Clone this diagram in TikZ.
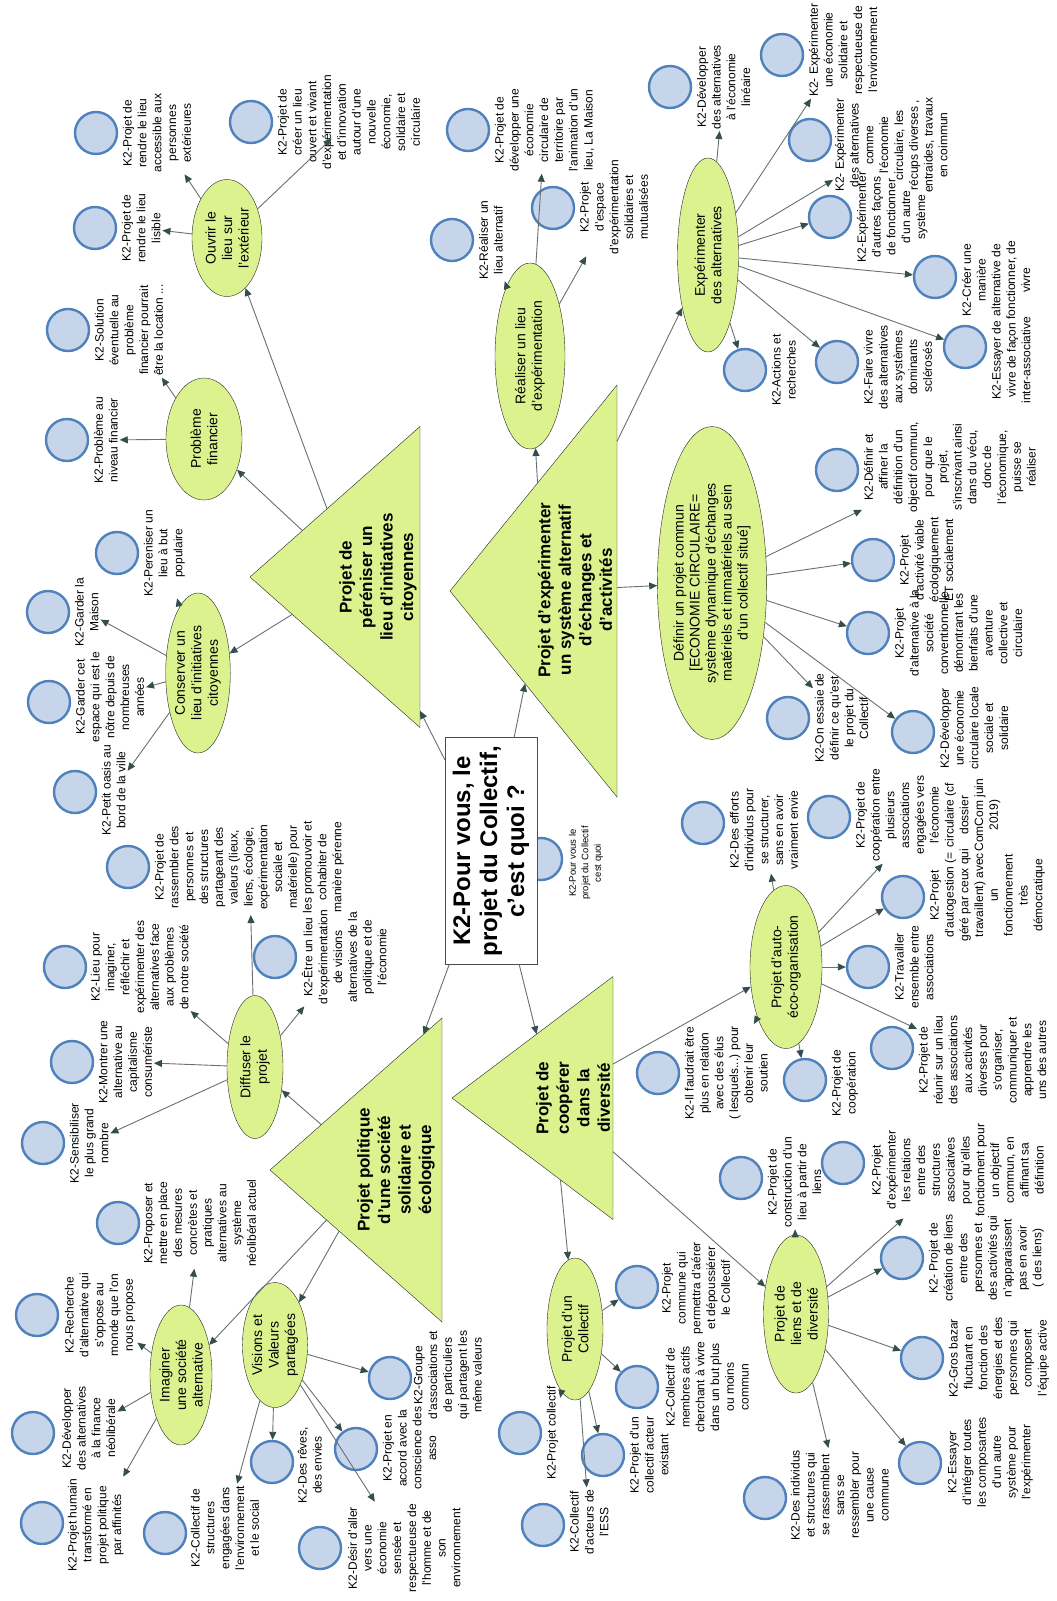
\documentclass[tikz,border=0pt]{standalone}
\usepackage{fontspec}
\setmainfont{Liberation Sans}
\usetikzlibrary{shapes.geometric,arrows.meta}
\definecolor{leaffill}{RGB}{198,213,233}
\definecolor{leafline}{RGB}{79,129,189}
\definecolor{topicfill}{RGB}{219,242,142}
\definecolor{linkcol}{RGB}{105,112,112}
\definecolor{headcol}{RGB}{52,78,76}
\begin{document}
\begin{tikzpicture}[x=1pt,y=-1pt,
  leaf/.style={circle,draw=leafline,fill=leaffill,line width=2.4pt,minimum size=42pt,inner sep=0pt},
  leaf text/.style={rotate=90,anchor=north,align=center,inner sep=0pt,outer sep=2pt,font=\fontsize{12}{14.8}\selectfont},
  topic/.style={ellipse,rotate=90,draw=black!85,fill=topicfill,inner sep=0pt,align=center,font=\fontsize{14}{16.5}\selectfont},
  theme/.style={isosceles triangle,isosceles triangle stretches,shape border rotate=180,anchor=apex,draw=black!85,fill=topicfill,inner sep=0pt,outer sep=0pt},
  theme text/.style={rotate=90,align=center,font=\bfseries\fontsize{17}{20.5}\selectfont},
  question/.style={rectangle,rotate=90,draw=black!70,fill=white,align=center,inner sep=0pt,font=\bfseries\fontsize{24}{27}\selectfont},
  every edge/.style={draw=linkcol,line width=0.9pt,-{Triangle[length=8pt,width=7pt,color=headcol]}}]

  \useasboundingbox (0,0) rectangle (1057,1601);

  \node[leaf] (pourvous) at (541,859) {};
  \node[leaf text,font=\fontsize{9.5}{12.5}\selectfont] (pourvous-t) at (567,863) {K2-Pour vous le\\projet du Collectif\\cest quoi};
  \node[question,minimum width=227pt,minimum height=92pt] (question) at (491,851) {K2-Pour vous, le\\projet du Collectif,\\c'est quoi ?};

  \node[theme,minimum width=301pt,minimum height=170pt] (lieu) at (250,577) {};
  \node[theme text] (lieu-t) at (378,577) {Projet de\\péréniser un\\lieu d'initiatives\\citoyennes};
  \node[theme,minimum width=412pt,minimum height=167pt] (systeme) at (450,591) {};
  \node[theme text] (systeme-t) at (575,590) {Projet d'expérimenter\\un système alternatif\\d'échanges et\\d'activités};
  \node[theme,minimum width=304pt,minimum height=172pt] (politique) at (270,1170) {};
  \node[theme text] (politique-t) at (396,1170) {Projet politique\\d'une société\\solidaire et\\écologique};
  \node[theme,minimum width=243pt,minimum height=161pt] (cooperer) at (452,1098) {};
  \node[theme text] (cooperer-t) at (573,1098) {Projet de\\coopérer\\dans la\\diversité};

  \node[topic,minimum width=117pt,minimum height=70pt] (ouvrir) at (227,238) {Ouvrir le\\lieu sur\\l'extérieur};
  \node[topic,minimum width=122pt,minimum height=76pt] (finance) at (204,439) {Problème\\financier};
  \node[topic,minimum width=160pt,minimum height=63pt] (conserver) at (198,673) {Conserver un\\lieu d'initiatives\\citoyennes};
  \node[topic,minimum width=186pt,minimum height=70pt] (realiser) at (530,356) {Réaliser un lieu\\d'expérimentation};
  \node[topic,minimum width=194pt,minimum height=61pt] (experimenter) at (708,255) {Expérimenter\\des alternatives};
  \node[topic,minimum width=313pt,minimum height=109pt,font=\fontsize{14}{16}\selectfont] (definir) at (712,583) {Définir un projet commun\\{[}ECONOMIE CIRCULAIRE=\\système dynamique d'échanges\\matériels et immatériels au sein\\d'un collectif situé{]}};
  \node[topic,minimum width=163pt,minimum height=72pt] (autoorg) at (786,967) {Projet d'auto-\\éco-organisation};
  \node[topic,minimum width=142pt,minimum height=56pt] (collectif) at (575,1329) {Projet d'un\\Collectif};
  \node[topic,minimum width=158pt,minimum height=65pt] (liens) at (796,1314) {Projet de\\liens et de\\diversité};
  \node[topic,minimum width=143pt,minimum height=56pt] (diffuser) at (255,1067) {Diffuser le\\projet};
  \node[topic,minimum width=140pt,minimum height=62pt] (imaginer) at (181,1375) {Imaginer\\une société\\alternative};
  \node[topic,minimum width=125pt,minimum height=60pt] (visions) at (275,1345) {Visions et\\Valeurs\\partagées};

  \node[leaf] (lisible) at (95,228) {};
  \node[leaf text] (lisible-t) at (120,228) {K2-Projet de\\rendre le lieu\\lisible};
  \node[leaf] (accessible) at (96,133) {};
  \node[leaf text] (accessible-t) at (121,133) {K2-Projet de\\rendre le lieu\\accessible aux\\personnes\\extérieures};
  \node[leaf] (creer) at (251,122) {};
  \node[leaf text] (creer-t) at (276,122) {K2-Projet de\\créer un lieu\\ouvert et vivant\\d'expérimentation\\et d'innovation\\autour d'une\\nouvelle\\économie,\\solidaire et\\circulaire};
  \node[leaf] (niveau) at (67,440) {};
  \node[leaf text] (niveau-t) at (92,440) {K2-Problème au\\niveau financier};
  \node[leaf] (solution) at (68,330) {};
  \node[leaf text] (solution-t) at (93,330) {K2-Solution\\éventuelle au\\problème\\financier pourrait\\être la location ...};
  \node[leaf] (perenniser) at (117,553) {};
  \node[leaf text] (perenniser-t) at (142,553) {K2-Pereniser un\\lieu à but\\populaire};
  \node[leaf] (maison) at (48,612) {};
  \node[leaf text] (maison-t) at (73,612) {K2-Garder la\\Maison};
  \node[leaf] (espace) at (49,702) {};
  \node[leaf text] (espace-t) at (74,697) {K2-Garder cet\\espace qui est le\\nôtre depuis de\\nombreuses\\années};
  \node[leaf] (oasis) at (75,792) {};
  \node[leaf text] (oasis-t) at (100,790) {K2-Petit oasis au\\bord de la ville};

  \node[leaf] (alternatif) at (452,240) {};
  \node[leaf text] (alternatif-t) at (477,240) {K2-Réaliser un\\lieu alternatif};
  \node[leaf] (territoire) at (468,130) {};
  \node[leaf text] (territoire-t) at (493,130) {K2-Projet de\\développer une\\économie\\circulaire de\\territoire par\\l'animation d'un\\lieu, La Maison};
  \node[leaf] (mutualise) at (553,208) {};
  \node[leaf text] (mutualise-t) at (578,207) {K2-Projet\\d'espace\\d'expérimentation\\solidaires et\\mutualisées};
  \node[leaf] (lineaire) at (670,87) {};
  \node[leaf text] (lineaire-t) at (695,87) {K2-Développer\\des alternatives\\à l'économie\\linéaire};
  \node[leaf] (solidaire) at (782,55) {};
  \node[leaf text] (solidaire-t) at (807,50) {K2- Expérimenter\\une économie\\solidaire et\\respectueuse de\\l'environnement};
  \node[leaf] (circulaire) at (810,140) {};
  \node[leaf text] (circulaire-t) at (833,145) {K2- Expérimenter\\des alternatives\\comme\\l'économie\\circulaire, les\\récups diverses ,\\entraides, travaux\\en coimmun};
  \node[leaf] (facons) at (830,217) {};
  \node[leaf text] (facons-t) at (855,217) {K2-Expérimenter\\d'autres façons\\de fonctionner\\d'un autre\\système};
  \node[leaf] (maniere) at (935,277) {};
  \node[leaf text] (maniere-t) at (960,280) {K2-Créer une\\manière\\alternative de\\fonctionner, de\\vivre};
  \node[leaf] (interasso) at (965,347) {};
  \node[leaf text] (interasso-t) at (990,360) {K2-Essayer de\\vivre de façon\\inter-associative};
  \node[leaf] (sclerose) at (837,362) {};
  \node[leaf text] (sclerose-t) at (862,367) {K2-Faire vivre\\des alternatives\\aux systèmes\\dominants\\sclérosés};
  \node[leaf] (actions) at (745,370) {};
  \node[leaf text] (actions-t) at (770,370) {K2-Actions et\\recherches};

  \node[leaf] (objectif) at (837,470) {};
  \node[leaf text] (objectif-t) at (862,467) {K2-Définir et\\affiner la\\définition d'un\\objectif commun,\\pour que le\\projet,\\s'inscrivant ainsi\\dans du vécu,\\donc de\\l'économique,\\puisse se\\réaliser};
  \node[leaf] (viable) at (873,560) {};
  \node[leaf text] (viable-t) at (898,560) {K2-Projet\\d'activité viable\\écologiquement\\ET socialement};
  \node[leaf] (conventionnel) at (868,633) {};
  \node[leaf text] (conventionnel-t) at (893,633) {K2-Projet\\d'alternative à la\\société\\conventionnelle\\démontrant les\\bienfaits d'une\\aventure\\collective et\\circulaire};
  \node[leaf] (essai) at (788,718) {};
  \node[leaf text] (essai-t) at (813,718) {K2-On essaie de\\définir ce qu'est\\le projet du\\Collectif};
  \node[leaf] (locale) at (913,732) {};
  \node[leaf text] (locale-t) at (938,728) {K2-Développer\\une économie\\circulaire locale\\sociale et\\solidaire};

  \node[leaf] (elus) at (658,1073) {};
  \node[leaf text] (elus-t) at (683,1073) {K2-Il faudrait être\\plus en relation\\avec des élus\\( lesquels...) pour\\obtenir leur\\soutien};
  \node[leaf] (coop) at (805,1080) {};
  \node[leaf text] (coop-t) at (830,1083) {K2-Projet de\\coopération};
  \node[leaf] (reunir) at (892,1048) {};
  \node[leaf text] (reunir-t) at (917,1060) {K2-Projet de\\réunir sur un lieu\\des associations\\aux activités\\diverses pour\\s'organiser,\\communiquer et\\apprendre les\\uns des autres};
  \node[leaf] (travailler) at (868,967) {};
  \node[leaf text] (travailler-t) at (893,967) {K2-Travailler\\ensemble entre\\associations};
  \node[leaf] (autogestion) at (903,897) {};
  \node[leaf text] (autogestion-t) at (928,895) {K2-Projet\\d'autogestion (=\\géré par ceux qui\\travaillent) avec\\un\\fonctionnement\\très\\démocratique};
  \node[leaf] (comcom) at (829,817) {};
  \node[leaf text] (comcom-t) at (854,815) {K2-Projet de\\coopération entre\\plusieurs\\associations\\engagées vers\\l'économie\\circulaire (cf\\dossier\\ComCom juin\\2019)};
  \node[leaf] (efforts) at (703,823) {};
  \node[leaf text] (efforts-t) at (728,830) {K2-Des efforts\\d'individus pour\\se structurer,\\sans en avoir\\vraiment envie};

  \node[leaf] (projcoll) at (520,1433) {};
  \node[leaf text] (projcoll-t) at (545,1433) {K2-Projet collectif};
  \node[leaf] (ess) at (543,1525) {};
  \node[leaf text] (ess-t) at (568,1522) {K2-Collectif\\d'acteurs de\\l'ESS};
  \node[leaf] (acteur) at (603,1455) {};
  \node[leaf text] (acteur-t) at (628,1455) {K2-Projet d'un\\collectif acteur\\existant};
  \node[leaf] (membres) at (637,1387) {};
  \node[leaf text] (membres-t) at (664,1387) {K2-Collectif de\\membres actifs\\cherchant à vivre\\dans un but plus\\ou moins\\commun};
  \node[leaf] (commune) at (637,1287) {};
  \node[leaf text] (commune-t) at (660,1288) {K2-Projet\\commune qui\\permettra d'aérer\\et dépoussiérer\\le Collectif};

  \node[leaf] (construction) at (741,1178) {};
  \node[leaf text] (construction-t) at (766,1182) {K2-Projet de\\construction d'un\\lieu à partir de\\liens};
  \node[leaf] (relations) at (843,1163) {};
  \node[leaf text] (relations-t) at (870,1170) {K2-Projet\\d'expérimenter\\les relations\\entre des\\structures\\associatives\\pour qu'elles\\fonctionnent pour\\un objectif\\commun, en\\affinant sa\\définition};
  \node[leaf] (creation) at (902,1258) {};
  \node[leaf text] (creation-t) at (927,1258) {K2- Projet de\\création de liens\\entre des\\personnes et\\des activités qui\\n'apparaissent\\pas en avoir\\( des liens)};
  \node[leaf] (bazar) at (922,1358) {};
  \node[leaf text] (bazar-t) at (947,1358) {K2-Gros bazar\\fluctuant en\\fonction des\\énergies et des\\personnes qui\\composent\\l'équipe active};
  \node[leaf] (integrer) at (920,1463) {};
  \node[leaf text] (integrer-t) at (946,1462) {K2-Essayer\\d'intégrer toutes\\les composantes\\d'un autre\\système pour\\l'expérimenter};
  \node[leaf] (individus) at (765,1498) {};
  \node[leaf text] (individus-t) at (789,1495) {K2-Des individus\\et structures qui\\se rassemblent\\sans se\\ressembler pour\\une cause\\commune};

  \node[leaf] (sensibiliser) at (43,1143) {};
  \node[leaf text] (sensibiliser-t) at (68,1143) {K2-Sensibiliser\\le plus grand\\nombre};
  \node[leaf] (montrer) at (72,1062) {};
  \node[leaf text] (montrer-t) at (97,1062) {K2-Montrer une\\alternative au\\capitalisme\\consumériste};
  \node[leaf] (lieupour) at (65,967) {};
  \node[leaf text] (lieupour-t) at (89,967) {K2-Lieu pour\\imaginer,\\réfléchir et\\expérimenter des\\alternatives face\\aux problèmes\\de notre société};
  \node[leaf] (rassembler) at (128,867) {};
  \node[leaf text] (rassembler-t) at (153,867) {K2-Projet de\\rassembler des\\personnes et\\des structures\\partageant des\\valeurs (lieux,\\liens, écologie,\\expérimentation\\sociale et\\matérielle) pour\\les promouvoir et\\cohabiter de\\manière pérenne};
  \node[leaf] (etre) at (275,957) {};
  \node[leaf text] (etre-t) at (300,957) {K2-Être un lieu\\d'expérimentation\\de visions\\alternatives de la\\politique et de\\l'économie};

  \node[leaf] (proposer) at (118,1223) {};
  \node[leaf text] (proposer-t) at (142,1223) {K2-Proposer et\\mettre en place\\des mesures\\concrètes et\\pratiques\\alternatives au\\système\\néolibéral actuel};
  \node[leaf] (recherche) at (37,1315) {};
  \node[leaf text] (recherche-t) at (63,1315) {K2-Recherche\\d'alternative qui\\s'oppose au\\monde que l'on\\nous propose};
  \node[leaf] (finneo) at (33,1433) {};
  \node[leaf text] (finneo-t) at (60,1428) {K2-Développer\\des alternatives\\à la finance\\néolibérale};
  \node[leaf] (humain) at (42,1523) {};
  \node[leaf text] (humain-t) at (66,1525) {K2-Projet humain\\transformé en\\projet politique\\par affinités};

  \node[leaf] (structures) at (165,1533) {};
  \node[leaf text] (structures-t) at (189,1528) {K2-Collectif de\\structures\\engagées dans\\l'environnement\\et le social};
  \node[leaf] (reves) at (272,1462) {};
  \node[leaf text] (reves-t) at (296,1465) {K2-Des rêves,\\des envies};
  \node[leaf] (desir) at (320,1548) {};
  \node[leaf text] (desir-t) at (346,1548) {K2-Désir d'aller\\vers une\\économie\\sensée et\\respectueuse de\\l'homme et de\\son\\environnement};
  \node[leaf] (conscience) at (356,1449) {};
  \node[leaf text] (conscience-t) at (381,1448) {K2-Projet en\\accord avec la\\conscience des\\asso};
  \node[leaf] (groupe) at (390,1378) {};
  \node[leaf text] (groupe-t) at (412,1375) {K2-Groupe\\d'associations et\\de particuliers\\qui partagent les\\même valeurs};

  \path
   (question) edge (lieu)
   (question) edge (systeme)
   (question) edge (politique)
   (question) edge (cooperer)

   (lieu) edge (ouvrir)
   (lieu) edge (finance)
   (lieu) edge (conserver)
   (systeme) edge (realiser)
   (systeme) edge (experimenter)
   (systeme) edge (definir)
   (politique) edge (diffuser)
   (politique) edge (imaginer)
   (politique) edge (visions)
   (cooperer) edge (autoorg)
   (cooperer) edge (collectif)
   (cooperer) edge (liens)

   (ouvrir) edge (lisible-t)
   (ouvrir) edge (accessible-t)
   (ouvrir) edge[shorten >=24pt] (creer-t.center)
   (finance) edge (niveau-t)
   (finance) edge (solution-t)
   (conserver) edge (perenniser-t)
   (conserver) edge (maison-t)
   (conserver) edge (espace-t)
   (conserver) edge (oasis-t)

   (realiser) edge (alternatif-t)
   (realiser) edge (territoire-t)
   (realiser) edge (mutualise-t)
   (experimenter) edge (lineaire-t)
   (experimenter) edge (solidaire-t)
   (experimenter) edge (circulaire-t)
   (experimenter) edge (facons)
   (experimenter) edge (maniere)
   (experimenter) edge (interasso)
   (experimenter) edge (sclerose)
   (experimenter) edge (actions)
   (definir) edge (objectif-t)
   (definir) edge (viable)
   (definir) edge (conventionnel)
   (definir) edge (essai-t)
   (definir) edge (locale)

   (autoorg) edge (elus-t)
   (autoorg) edge (coop)
   (autoorg) edge (reunir-t)
   (autoorg) edge (travailler)
   (autoorg) edge (autogestion)
   (autoorg) edge (comcom-t)
   (autoorg) edge (efforts-t)
   (collectif) edge (projcoll-t)
   (collectif) edge (ess-t)
   (collectif) edge (acteur)
   (collectif) edge (membres)
   (collectif) edge (commune)
   (liens) edge (construction-t)
   (liens) edge (relations-t)
   (liens) edge (creation)
   (liens) edge (bazar)
   (liens) edge (integrer)
   (liens) edge (individus-t)

   (diffuser) edge (sensibiliser-t)
   (diffuser) edge (montrer-t)
   (diffuser) edge (lieupour-t)
   (diffuser) edge (rassembler-t)
   (diffuser) edge (etre-t)
   (imaginer) edge (proposer-t)
   (imaginer) edge (recherche-t)
   (imaginer) edge (finneo-t)
   (imaginer) edge (humain-t)
   (visions) edge (structures-t)
   (visions) edge (reves)
   (visions) edge (desir-t)
   (visions) edge (conscience)
   (visions) edge (groupe);
\end{tikzpicture}
\end{document}
